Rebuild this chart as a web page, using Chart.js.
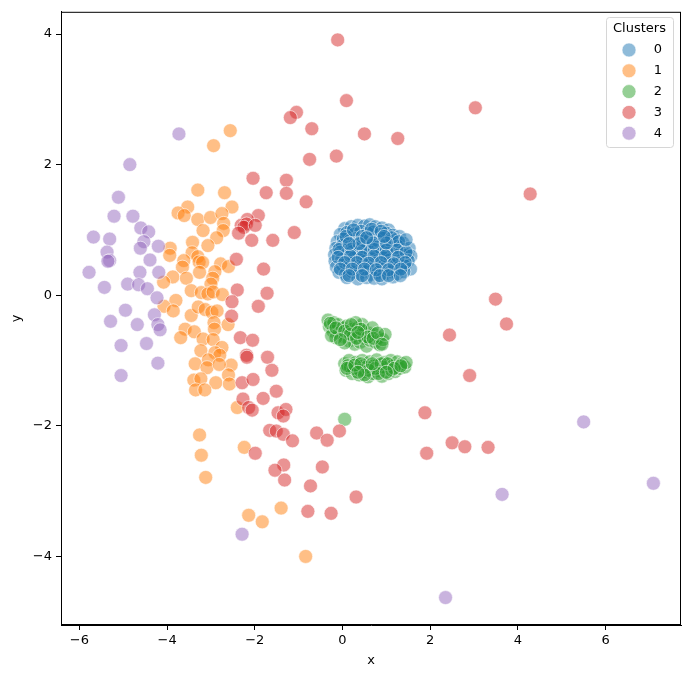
<!DOCTYPE html>
<html lang="en">
<head>
    <meta charset="UTF-8">
    <title>Clusters</title>
    <script src="https://cdn.jsdelivr.net/npm/chart.js"></script>
    <style>
        body { margin: 0; background: #fff; }
        canvas { display: block; }
    </style>
</head>
<body>
    <canvas id="scatterChart" width="689" height="679"></canvas>

    <script>
        // cluster points, [x, y]
        const cluster0 = [
            [0.05,1.02],[0.2,1.05],[0.35,1.07],[0.5,1.06],[0.62,1.08],[0.75,1.05],[0.9,1.03],[1.05,1.0],
            [-0.05,0.93],[0.1,0.96],[0.28,0.94],[0.42,0.98],[0.58,0.95],[0.7,0.97],[0.85,0.93],[1.0,0.95],[1.15,0.92],[1.3,0.9],
            [-0.12,0.82],[0.02,0.86],[0.18,0.84],[0.32,0.87],[0.47,0.83],[0.63,0.86],[0.78,0.84],[0.92,0.87],[1.08,0.83],[1.22,0.85],[1.38,0.8],
            [-0.15,0.72],[0.0,0.76],[0.14,0.73],[0.27,0.77],[0.4,0.74],[0.55,0.72],[0.68,0.77],[0.82,0.74],[0.97,0.76],[1.12,0.73],[1.26,0.75],[1.42,0.7],[1.52,0.72],
            [-0.18,0.62],[-0.05,0.66],[0.1,0.63],[0.23,0.67],[0.37,0.64],[0.5,0.62],[0.63,0.66],[0.77,0.63],[0.9,0.67],[1.03,0.64],[1.18,0.62],[1.33,0.65],[1.48,0.62],[1.56,0.6],
            [-0.17,0.52],[-0.02,0.55],[0.12,0.53],[0.26,0.57],[0.4,0.54],[0.53,0.52],[0.67,0.56],[0.8,0.53],[0.94,0.57],[1.08,0.54],[1.22,0.52],[1.37,0.55],[1.5,0.53],
            [-0.14,0.43],[0.0,0.46],[0.15,0.42],[0.3,0.45],[0.45,0.43],[0.58,0.46],[0.72,0.42],[0.86,0.45],[1.0,0.43],[1.13,0.46],[1.28,0.42],[1.42,0.45],[1.55,0.4],
            [-0.08,0.35],[0.07,0.32],[0.22,0.36],[0.38,0.33],[0.52,0.36],[0.66,0.32],[0.8,0.35],[0.95,0.33],[1.1,0.36],[1.25,0.33],[1.4,0.36],
            [0.1,0.27],[0.35,0.25],[0.55,0.27],[0.72,0.26],[0.9,0.25],[1.15,0.28],
            [0.08,0.9],[0.25,1.0],[0.45,0.9],[0.66,1.01],[0.88,0.98],[1.12,0.88],[1.28,0.82],[-0.08,0.7],[0.2,0.7],[0.47,0.68],
            [0.73,0.7],[1.0,0.69],[1.24,0.69],[1.45,0.66],[-0.1,0.58],[0.18,0.6],[0.45,0.58],[0.72,0.6],[0.98,0.6],[1.27,0.58],
            [1.43,0.5],[0.05,0.5],[0.33,0.5],[0.6,0.49],[0.88,0.5],[1.17,0.48],[-0.05,0.4],[0.22,0.4],[0.5,0.4],[0.77,0.39],
            [1.05,0.39],[1.33,0.4],[0.15,0.3],[0.45,0.3],[0.85,0.3],[1.05,0.3],[1.32,0.3],[0.38,0.79],[0.7,0.8],[1.0,0.8],
            [0.15,0.79],[0.55,0.88],[0.95,0.9],[1.45,0.85]
        ];
        const cluster1 = [
            [-2.56,2.52],[-2.94,2.29],[-3.3,1.61],[-2.69,1.57],[-2.52,1.35],[-3.53,1.35],[-3.75,1.26],[-3.61,1.22],
            [-3.3,1.16],[-3.01,1.19],[-2.75,1.25],[-2.71,1.1],[-2.72,0.99],[-3.18,0.99],[-2.87,0.88],[-3.42,0.81],
            [-3.07,0.76],[-3.93,0.72],[-3.94,0.61],[-3.43,0.65],[-3.3,0.59],[-3.27,0.51],[-3.19,0.5],[-3.62,0.53],
            [-2.78,0.48],[-2.6,0.44],[-3.65,0.43],[-3.26,0.35],[-2.91,0.36],[-3.87,0.28],[-3.56,0.26],[-2.96,0.26],
            [-4.08,0.2],[-3.0,0.17],[-3.45,0.07],[-3.22,0.04],[-3.07,0.02],[-2.95,0.05],[-2.74,0.01],[-3.8,-0.08],
            [-4.07,-0.17],[-3.86,-0.24],[-3.45,-0.31],[-3.29,-0.18],[-3.13,-0.22],[-2.98,-0.26],[-2.86,-0.24],[-2.93,-0.42],
            [-2.61,-0.45],[-2.92,-0.52],[-3.59,-0.52],[-3.38,-0.56],[-3.69,-0.65],[-3.18,-0.67],[-2.95,-0.68],[-2.75,-0.8],
            [-3.23,-0.85],[-2.91,-0.88],[-2.8,-0.92],[-3.06,-0.99],[-3.36,-1.05],[-2.54,-1.07],[-3.09,-1.11],[-2.81,-1.06],
            [-2.6,-1.22],[-3.39,-1.3],[-3.23,-1.28],[-2.89,-1.34],[-2.58,-1.36],[-3.35,-1.45],[-3.14,-1.45],[-2.4,-1.72],
            [-3.26,-2.14],[-3.22,-2.45],[-3.12,-2.79],[-2.24,-2.33],[-2.14,-3.37],[-1.83,-3.47],[-1.4,-3.26],[-0.84,-4.0]
        ];
        const cluster2 = [
            [-0.33,-0.38],[-0.3,-0.48],[-0.2,-0.42],[-0.22,-0.55],[-0.1,-0.45],[-0.08,-0.58],[0.0,-0.5],[0.02,-0.63],
            [0.1,-0.47],[0.12,-0.58],[0.15,-0.7],[0.22,-0.52],[0.25,-0.63],[0.28,-0.75],[0.35,-0.5],[0.38,-0.6],
            [0.4,-0.72],[0.48,-0.55],[0.5,-0.66],[0.55,-0.78],[0.6,-0.58],[0.63,-0.69],[0.72,-0.6],[0.75,-0.72],
            [0.82,-0.65],[0.85,-0.76],[0.92,-0.68],[0.97,-0.6],[-0.15,-0.65],[0.05,-0.73],[-0.25,-0.62],[0.45,-0.45],
            [0.68,-0.5],[0.3,-0.42],
            [-0.28,-0.43],[-0.15,-0.5],[0.05,-0.55],[0.18,-0.6],[0.32,-0.66],[0.42,-0.52],[0.58,-0.64],[0.7,-0.66],
            [0.8,-0.58],[0.9,-0.75],[0.2,-0.45],[-0.05,-0.68],[0.35,-0.57],
            [0.05,-1.05],[0.08,-1.15],[0.15,-1.0],[0.18,-1.1],[0.22,-1.2],[0.3,-1.03],[0.33,-1.13],[0.38,-1.22],
            [0.45,-1.0],[0.48,-1.08],[0.52,-1.17],[0.58,-1.25],[0.62,-1.02],[0.65,-1.12],[0.7,-1.2],[0.78,-0.99],
            [0.8,-1.07],[0.85,-1.16],[0.9,-1.24],[0.95,-1.03],[1.0,-1.12],[1.05,-1.2],[1.1,-1.0],[1.15,-1.08],
            [1.2,-1.17],[1.25,-1.02],[1.3,-1.12],[1.35,-1.05],[1.42,-1.1],[1.45,-1.03],[0.25,-1.12],[0.55,-1.1],
            [0.72,-1.08],[0.92,-1.1],[1.12,-1.15],[0.4,-1.15],[0.12,-1.08],
            [0.1,-1.12],[0.28,-1.07],[0.42,-1.05],[0.6,-1.15],[0.75,-1.12],[0.88,-1.05],[1.03,-1.05],[1.18,-1.12],
            [1.33,-1.08],[0.5,-1.22],[0.82,-1.2],[0.68,-1.05],[0.35,-1.18],[1.0,-1.18],
            [0.05,-1.9]
        ];
        const cluster3 = [
            [-0.11,3.91],[0.09,2.98],[-1.05,2.8],[-1.19,2.72],[-0.7,2.55],[-0.75,2.08],[-0.14,2.13],[0.5,2.47],
            [1.26,2.4],[3.03,2.87],[4.28,1.55],[-2.04,1.79],[-1.28,1.76],[-1.74,1.57],[-1.28,1.56],[-0.83,1.43],
            [-1.92,1.22],[-2.17,1.16],[-2.31,1.07],[-2.19,1.09],[-2.25,1.04],[-1.99,1.07],[-2.37,0.95],[-1.1,0.96],
            [-2.07,0.84],[-1.59,0.84],[-2.42,0.55],[-1.8,0.4],[-2.4,0.08],[-1.72,0.03],[-2.52,-0.1],[-1.92,-0.17],
            [-2.53,-0.32],[-2.33,-0.65],[-2.05,-0.69],[-2.19,-0.92],[-2.18,-0.95],[-1.71,-0.95],[-1.61,-1.15],[-2.29,-1.34],
            [-2.04,-1.29],[-1.51,-1.47],[-1.81,-1.58],[-2.27,-1.59],[-2.14,-1.72],[-2.06,-1.76],[-1.47,-1.8],[-1.29,-1.75],
            [-1.35,-1.85],[-1.66,-2.07],[-1.51,-2.08],[-1.35,-2.13],[-1.14,-2.23],[-0.59,-2.11],[-0.35,-2.22],[-0.07,-2.08],
            [-1.99,-2.42],[-1.34,-2.6],[-1.54,-2.68],[-0.46,-2.63],[-1.32,-2.83],[-0.73,-2.92],[0.31,-3.09],[-0.79,-3.31],
            [-0.26,-3.34],[2.9,-1.23],[1.88,-1.8],[2.5,-2.26],[2.79,-2.32],[3.32,-2.33],[1.92,-2.42],[3.49,-0.06],
            [3.74,-0.44],[2.44,-0.61]
        ];
        const cluster4 = [
            [-3.73,2.47],[-4.85,2.0],[-5.11,1.5],[-5.21,1.21],[-4.78,1.21],[-4.6,1.03],[-4.42,0.97],[-5.68,0.89],
            [-5.31,0.86],[-4.53,0.82],[-4.61,0.72],[-4.2,0.75],[-5.37,0.66],[-5.31,0.53],[-5.35,0.52],[-4.39,0.54],
            [-5.78,0.35],[-4.62,0.35],[-4.19,0.35],[-5.43,0.12],[-4.9,0.17],[-4.65,0.16],[-4.45,0.1],[-4.23,-0.04],
            [-4.95,-0.23],[-5.29,-0.4],[-4.68,-0.45],[-4.29,-0.3],[-4.21,-0.45],[-4.16,-0.53],[-5.05,-0.77],[-4.47,-0.74],
            [-4.21,-1.04],[-5.05,-1.23],[-2.29,-3.66],[5.5,-1.94],[7.09,-2.88],[3.64,-3.05],[2.35,-4.63]
        ];

        const clusterNames = ['0', '1', '2', '3', '4'];
        const clusterData = [cluster0, cluster1, cluster2, cluster3, cluster4];
        const clusterColors = ['31,119,180', '255,127,14', '44,160,44', '214,39,40', '148,103,189'];
        const xTicks = [-6, -4, -2, 0, 2, 4, 6];
        const yTicks = [-4, -2, 0, 2, 4];

        const FONT = 'DejaVu Sans';
        const minus = v => String(v).replace('-', '\u2212');

        // box round the plot + legend in the top right corner
        const framePlugin = {
            id: 'frame',
            afterDraw(chart) {
                const ctx = chart.ctx;
                const a = chart.chartArea;
                ctx.save();
                ctx.strokeStyle = '#000';
                ctx.lineWidth = 1;
                ctx.strokeRect(a.left + 0.5, a.top + 0.5, a.right - a.left - 1, a.bottom - a.top - 1);

                // legend
                const bx = 606, by = 17, bw = 67, bh = 130;
                ctx.fillStyle = 'rgba(255,255,255,0.8)';
                ctx.strokeStyle = '#d6d6d6';
                ctx.beginPath();
                ctx.roundRect(bx + 0.5, by + 0.5, bw, bh, 3);
                ctx.fill();
                ctx.stroke();
                ctx.fillStyle = '#000';
                ctx.font = '13px "' + FONT + '"';
                ctx.textAlign = 'center';
                ctx.textBaseline = 'middle';
                ctx.fillText('Clusters', bx + bw / 2, by + 12);
                clusterNames.forEach((name, i) => {
                    const cy = 50 + i * 20.8;
                    ctx.beginPath();
                    ctx.arc(629, cy, 7, 0, Math.PI * 2);
                    ctx.fillStyle = 'rgba(' + clusterColors[i] + ',0.5)';
                    ctx.fill();
                    ctx.strokeStyle = 'rgba(255,255,255,0.6)';
                    ctx.stroke();
                    ctx.fillStyle = '#000';
                    ctx.fillText(name, 658, cy);
                });
                ctx.restore();
            }
        };

        new Chart(document.getElementById('scatterChart'), {
            type: 'scatter',
            data: {
                datasets: clusterData.map((pts, i) => ({
                    label: clusterNames[i],
                    data: pts.map(p => ({ x: p[0], y: p[1] })),
                    backgroundColor: 'rgba(' + clusterColors[i] + ',0.5)',
                    borderColor: 'rgba(255,255,255,0.6)',
                    borderWidth: 1,
                    pointRadius: 7,
                    order: 4 - i
                }))
            },
            options: {
                responsive: false,
                animation: false,
                devicePixelRatio: 1,
                layout: { padding: { left: 0, top: 8, right: 8, bottom: 0 } },
                plugins: {
                    legend: { display: false },
                    tooltip: { enabled: false }
                },
                scales: {
                    x: {
                        type: 'linear',
                        min: -6.42,
                        max: 7.72,
                        afterBuildTicks: s => { s.ticks = xTicks.map(v => ({ value: v })); },
                        afterFit: s => { s.height = 54; },
                        grid: { display: true, drawOnChartArea: false, drawTicks: true, tickLength: 5, color: '#000' },
                        border: { display: true, color: '#000', width: 1 },
                        ticks: { color: '#000', padding: 3, font: { family: FONT, size: 13 }, callback: v => minus(v) },
                        title: { display: true, text: 'x', color: '#000', font: { family: FONT, size: 13 }, padding: { top: 0, bottom: 11 } }
                    },
                    y: {
                        type: 'linear',
                        min: -5.05,
                        max: 4.34,
                        afterBuildTicks: s => { s.ticks = yTicks.map(v => ({ value: v })); },
                        afterFit: s => { s.width = 61; },
                        grid: { display: true, drawOnChartArea: false, drawTicks: true, tickLength: 5, color: '#000' },
                        border: { display: true, color: '#000', width: 1 },
                        ticks: { color: '#000', padding: 4, font: { family: FONT, size: 13 }, callback: v => minus(v) },
                        title: { display: true, text: 'y', color: '#000', font: { family: FONT, size: 13 }, padding: { top: 9, bottom: 0 } }
                    }
                }
            },
            plugins: [framePlugin]
        });
    </script>
</body>
</html>
